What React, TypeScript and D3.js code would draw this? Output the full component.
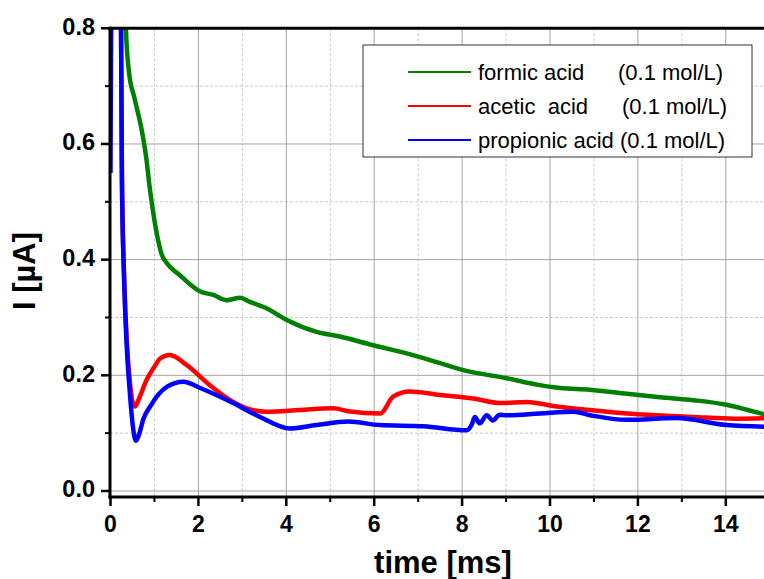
import React from "react";
import * as d3 from "d3";

const formic: [number, number][] = [
  [0.3, 0.95], [0.35, 0.8], [0.42, 0.725], [0.55, 0.678], [0.7, 0.628], [0.81, 0.578],
  [0.9, 0.52], [1.0, 0.468], [1.1, 0.428], [1.16, 0.41], [1.28, 0.394], [1.58, 0.373],
  [2.04, 0.345], [2.34, 0.339], [2.64, 0.33], [2.95, 0.334], [3.17, 0.327], [3.55, 0.316],
  [4.0, 0.296], [4.69, 0.275], [5.22, 0.267], [5.98, 0.252], [6.74, 0.238],
  [7.5, 0.221], [8.03, 0.209], [9.01, 0.195], [9.77, 0.183], [10.23, 0.178],
  [10.9, 0.175], [11.75, 0.168], [12.5, 0.162], [13.26, 0.157], [14.02, 0.149],
  [14.5, 0.14], [15.0, 0.13],
];

const acetic: [number, number][] = [
  [0, 0.67], [0.03, 0.95], [0.22, 0.95], [0.24, 0.8], [0.26, 0.54], [0.31, 0.37],
  [0.37, 0.26], [0.44, 0.19], [0.5, 0.155], [0.56, 0.146], [0.65, 0.16],
  [0.82, 0.192], [1.0, 0.215], [1.13, 0.229], [1.35, 0.235], [1.73, 0.218],
  [2.26, 0.183], [2.79, 0.154], [3.1, 0.143], [3.55, 0.137], [4.31, 0.14],
  [5.07, 0.143], [5.41, 0.138], [6.14, 0.134], [6.43, 0.163], [6.81, 0.172],
  [7.5, 0.166], [8.25, 0.16], [8.86, 0.152], [9.47, 0.154], [10.15, 0.146],
  [10.9, 0.14], [11.75, 0.134], [13.26, 0.128], [14.2, 0.125], [15.0, 0.126],
];

const propionic: [number, number][] = [
  [0, 0.55], [0.03, 0.95], [0.22, 0.95], [0.24, 0.8], [0.26, 0.54], [0.31, 0.365],
  [0.37, 0.25], [0.44, 0.17], [0.52, 0.105], [0.58, 0.087], [0.65, 0.098],
  [0.75, 0.125], [0.9, 0.146], [1.28, 0.18], [1.66, 0.189], [2.04, 0.178],
  [2.79, 0.152], [3.4, 0.128], [4.08, 0.108], [4.69, 0.114], [5.41, 0.12],
  [6.13, 0.114], [7.12, 0.112], [8.1, 0.105], [8.22, 0.115], [8.29, 0.128],
  [8.4, 0.117], [8.56, 0.131], [8.7, 0.122], [8.85, 0.132], [9.01, 0.131],
  [9.77, 0.134], [10.53, 0.137], [10.91, 0.131], [11.75, 0.123], [12.88, 0.126],
  [14.02, 0.114], [15.0, 0.111],
];

const seriesNames = ["formic acid", "acetic  acid", "propionic acid"];
const seriesConc = ["(0.1 mol/L)", "(0.1 mol/L)", "(0.1 mol/L)"];
const seriesColors = ["#008000", "#ff0000", "#0000ff"];
const xMajor = [0, 2, 4, 6, 8, 10, 12, 14];
const xMinor = [1, 3, 5, 7, 9, 11, 13];
const yMajor = [0, 0.2, 0.4, 0.6, 0.8];
const yMinor = [0.1, 0.3, 0.5, 0.7];

const W = 764;
const H = 579;
const FONT = "'Liberation Sans', Arial, sans-serif";

export default function App() {
  const x = d3.scaleLinear().domain([0, 15]).range([110.5, 769.75]);
  const y = d3.scaleLinear().domain([-0.0104, 0.8]).range([497, 28.3]);
  const line = d3
    .line<[number, number]>()
    .x((d) => x(d[0]))
    .y((d) => y(d[1]))
    .curve(d3.curveMonotoneX);
  const data = [formic, acetic, propionic];
  const x0 = x(0) - 0.5;
  const yb = y(-0.0104);
  const yt = y(0.8);
  const legX = 363;
  const legY = 45;
  const legRowY = [72, 106, 140];
  const concX = [618, 622, 620];

  return (
    <svg
      width={W}
      height={H}
      style={{ position: "absolute", left: 0, top: 0, background: "#fff" }}
      fontFamily={FONT}
    >
      <defs>
        <clipPath id="plotclip">
          <rect x={x0} y={yt} width={W - x0} height={yb - yt} />
        </clipPath>
      </defs>
      {/* minor grid */}
      {xMinor.map((t) => (
        <line key={"xm" + t} x1={x(t)} x2={x(t)} y1={yt} y2={yb} stroke="#c8c8c8" strokeWidth={1} strokeDasharray="3,2" />
      ))}
      {yMinor.map((v) => (
        <line key={"ym" + v} x1={x0} x2={W} y1={y(v)} y2={y(v)} stroke="#c8c8c8" strokeWidth={1} strokeDasharray="3,2" />
      ))}
      {/* major grid */}
      {xMajor.slice(1).map((t) => (
        <line key={"xg" + t} x1={x(t)} x2={x(t)} y1={yt} y2={yb} stroke="#a4a4a4" strokeWidth={1} />
      ))}
      {yMajor.slice(0, 4).map((v) => (
        <line key={"yg" + v} x1={x0} x2={W} y1={y(v)} y2={y(v)} stroke="#a4a4a4" strokeWidth={1} />
      ))}
      {/* data */}
      <g clipPath="url(#plotclip)">
        {data.map((d, i) => (
          <path key={i} d={line(d) || ""} fill="none" stroke={seriesColors[i]} strokeWidth={4.5} strokeLinejoin="round" />
        ))}
      </g>
      {/* axes */}
      <line x1={x0 - 1.5} x2={W} y1={yb} y2={yb} stroke="#000" strokeWidth={3} />
      <line x1={x0 - 1.5} x2={W} y1={yt} y2={yt} stroke="#000" strokeWidth={3} />
      <line x1={x0} x2={x0} y1={yt - 1.5} y2={yb + 1.5} stroke="#000" strokeWidth={3} />
      {xMajor.map((t) => (
        <g key={"xt" + t}>
          <line x1={x(t)} x2={x(t)} y1={yb} y2={yb + 9} stroke="#000" strokeWidth={2.5} />
          <text x={x(t)} y={532} textAnchor="middle" fontSize={23} fontWeight="bold">
            {t}
          </text>
        </g>
      ))}
      {xMinor.map((t) => (
        <line key={"xmt" + t} x1={x(t)} x2={x(t)} y1={yb} y2={yb + 5} stroke="#000" strokeWidth={2} />
      ))}
      {yMajor.map((v) => (
        <g key={"yt" + v}>
          <line x1={x0} x2={x0 - 9} y1={y(v)} y2={y(v)} stroke="#000" strokeWidth={2.5} />
          <text x={95} y={y(v) + 6.5} textAnchor="end" fontSize={23.5} fontWeight="bold">
            {v.toFixed(1)}
          </text>
        </g>
      ))}
      {yMinor.map((v) => (
        <line key={"ymt" + v} x1={x0} x2={x0 - 5} y1={y(v)} y2={y(v)} stroke="#000" strokeWidth={2} />
      ))}
      {/* axis titles */}
      <text x={443} y={572.5} textAnchor="middle" fontSize={31} fontWeight="bold">
        time [ms]
      </text>
      <text
        transform={`translate(35,${271}) rotate(-90)`}
        textAnchor="middle"
        fontSize={31}
        fontWeight="bold"
      >
        I [µA]
      </text>
      {/* legend */}
      <rect x={legX} y={legY} width={389} height={112} fill="#fff" stroke="#333" strokeWidth={1} />
      {seriesNames.map((n, i) => (
        <g key={"lg" + i}>
          <line x1={408} x2={471} y1={legRowY[i]} y2={legRowY[i]} stroke={seriesColors[i]} strokeWidth={2} />
          <text x={478} y={legRowY[i] + 8} fontSize={22} style={{ whiteSpace: "pre" }}>
            {n}
          </text>
          <text x={concX[i]} y={legRowY[i] + 8} fontSize={22}>
            {seriesConc[i]}
          </text>
        </g>
      ))}
    </svg>
  );
}
